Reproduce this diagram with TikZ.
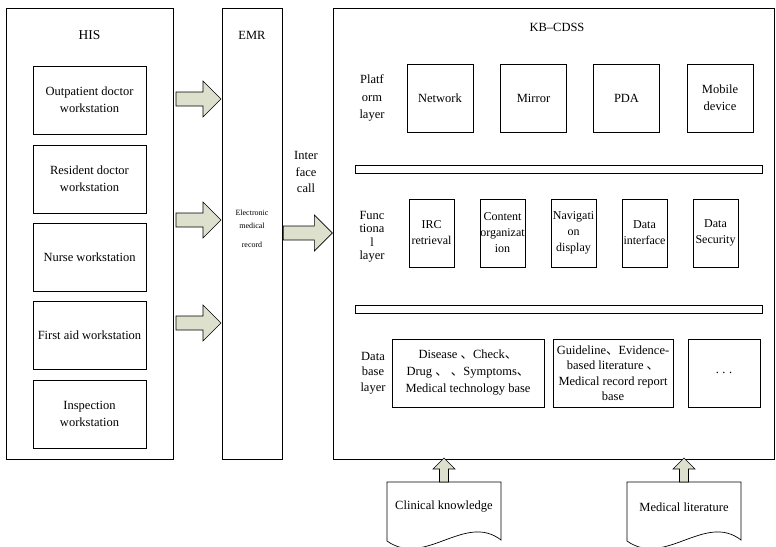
\documentclass[tikz,border=0pt]{standalone}
\usepackage{fontspec}
\setmainfont{Liberation Serif}
\newfontfamily\cjk{Noto Sans CJK SC}
\usetikzlibrary{positioning}
\definecolor{arrowfill}{RGB}{221,224,204}
\newcommand{\dun}{{\cjk 、}}
% block arrows: start point, shaft length
\newcommand{\rightblock}[2]{\draw[blockarrow] (#1) ++(0,-7) -- ++(#2,0) -- ++(0,-11) -- ++(18,18) -- ++(-18,18) -- ++(0,-11) -- ++(-#2,0) -- cycle;}
\newcommand{\upblock}[1]{\draw[blockarrow] (#1) ++(-4.5,0) -- ++(0,-13) -- ++(-6.5,0) -- ++(11,-11) -- ++(11,11) -- ++(-6.5,0) -- ++(0,13) -- cycle;}
\tikzset{
  outer/.style={draw, line width=0.7pt, inner sep=0pt},
  box/.style={draw, line width=0.7pt, inner sep=0pt, align=center, font=\fontsize{12.5}{17}\selectfont},
  station/.style={box, minimum width=113, minimum height=68},
  plat/.style={box, minimum width=66, minimum height=68},
  func/.style={box, minimum width=45, minimum height=68, font=\fontsize{12}{16}\selectfont},
  dbbox/.style={box, minimum height=68},
  bar/.style={draw, line width=0.7pt, minimum width=407, minimum height=8, inner sep=0pt},
  tag/.style={align=center, inner sep=0pt},
  blockarrow/.style={draw, line width=0.6pt, fill=arrowfill, line join=miter},
}
\begin{document}
\begin{tikzpicture}[x=1pt,y=-1pt,font=\fontsize{12.5}{17}\selectfont]
\clip (0,0) rectangle (776,546);

% three columns
\node[outer, minimum width=167, minimum height=451] (his) at (89.5,233.5) {};
\node[outer, minimum width=60, minimum height=451] (emr) at (252,233.5) {};
\node[outer, minimum width=441.5, minimum height=451] (kb) at (554,233.5) {};

\node[tag, font=\fontsize{13.5}{17}\selectfont] (hislbl) at (89.5,35) {HIS};
\node[tag] (emrlbl) at (252,35) {EMR};
\node[tag] (kblbl) at (557,27) {KB--CDSS};

% HIS
\node[station] (w1) at (89.5,100) {Outpatient doctor\\workstation};
\node[station] (w2) at (89.5,179) {Resident doctor\\workstation};
\node[station] (w3) at (89.5,257) {Nurse workstation};
\node[station] (w4) at (89.5,335) {First aid workstation};
\node[station] (w5) at (89.5,414) {Inspection\\workstation};

% EMR
\node[tag, font=\fontsize{8}{13}\selectfont] (emrtxt) at (252,229) {Electronic\\medical\\[6pt]record};
\node[tag, font=\fontsize{12.5}{16.5}\selectfont] (ifc) at (306,172) {Inter\\face\\call};

\coordinate (a1) at (176,99);
\coordinate (a2) at (176,220);
\coordinate (a3) at (176,323);
\coordinate (a4) at ([xshift=1pt]emr.east |- 0,233);
\rightblock{a1}{27}
\rightblock{a2}{27}
\rightblock{a3}{27}
\rightblock{a4}{31}

% platform layer
\node[tag, font=\fontsize{12.5}{17.5}\selectfont] (platlbl) at (372,98) {Platf\\orm\\layer};
\node[plat] (p1) at (440,98) {Network};
\node[plat] (p2) at (533.5,98) {Mirror};
\node[plat] (p3) at (626.5,98) {PDA};
\node[plat] (p4) at (720,98) {Mobile\\device};

\node[bar] (bar1) at (558.5,169) {};

% functional layer
\node[tag, font=\fontsize{12.5}{13.5}\selectfont] (funclbl) at (372,237) {Func\\tiona\\l\\layer};
\node[func] (f1) at (431.5,233) {IRC\\retrieval};
\node[func] (f2) at (502.5,233) {Content\\organizat\\ion};
\node[func] (f3) at (573.5,233) {Navigati\\on\\display};
\node[func] (f4) at (644.5,233) {Data\\interface};
\node[func] (f5) at (715.5,233) {Data\\Security};

\node[bar] (bar2) at (558.5,309) {};

% database layer
\node[tag, font=\fontsize{12.5}{15.5}\selectfont] (dblbl) at (373,373) {Data\\base\\layer};
\node[dbbox, minimum width=152] (d1) at (468,373) {Disease \dun{}Check\dun\\Drug \dun{} \dun{}Symptoms\dun\\Medical technology base};
\node[dbbox, minimum width=120, font=\fontsize{12.5}{15.5}\selectfont] (d2) at (613,373) {Guideline\dun{}Evidence-\\based literature \dun\\Medical record report\\base};
\node[dbbox, minimum width=72] (d3) at (724,373) {.\hspace{3.5pt}.\hspace{3.5pt}.};

% sources
\draw[line width=0.7pt] (387,482) -- (501,482) -- (501,540) .. controls (465,512) and (425,568) .. (387,541) -- cycle;
\draw[line width=0.7pt] (627,482) -- (741,482) -- (741,540) .. controls (705,512) and (665,568) .. (627,541) -- cycle;
\node[tag] (ck) at (444,507) {Clinical knowledge};
\node[tag] (ml) at (684,507) {Medical literature};
\coordinate (cktop) at (444,482);
\coordinate (mltop) at (684,482);
\upblock{cktop}
\upblock{mltop}

\end{tikzpicture}
\end{document}
